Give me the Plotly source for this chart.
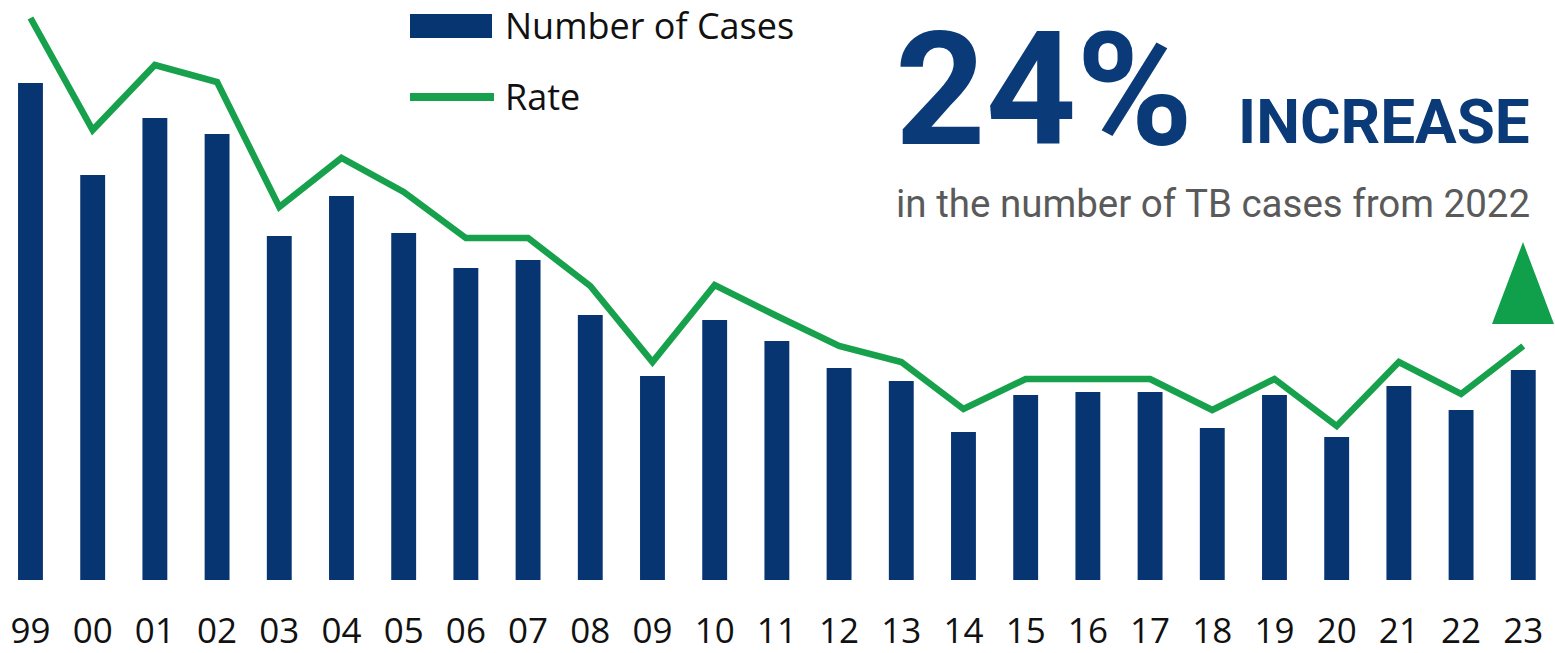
import plotly.graph_objects as go

# values (no axis scale shown, units = relative bar height)
years = ["99", "00", "01", "02", "03", "04", "05", "06", "07", "08", "09", "10", "11",
         "12", "13", "14", "15", "16", "17", "18", "19", "20", "21", "22", "23"]
cases = [497, 405, 462, 446, 344, 384, 347, 312, 320, 265, 204, 260, 239,
         212, 199, 148, 185, 188, 188, 152, 185, 143, 194, 170, 210]
rate = [562, 450, 515, 498, 373, 422, 388, 342, 342, 294, 218, 295, 264,
        234, 218, 171, 201, 201, 201, 170, 201, 154, 218, 186, 234]

navy = "#073571"
green = "#17a14c"
W, H = 1555, 653
plot_h = 580


def px(x):
    return x / W


def py(y):
    return (plot_h - y) / plot_h


fig = go.Figure()
fig.add_trace(go.Bar(x=years, y=cases, name="Number of Cases", marker_color=navy,
                     marker_line_width=0))
fig.add_trace(go.Scatter(x=years, y=rate, name="Rate", mode="lines",
                         line=dict(color=green, width=6.5), cliponaxis=False))

# hand-drawn legend, like the original graphic
shapes = [
    dict(type="rect", xref="paper", yref="paper", x0=px(410), x1=px(492), y0=py(38), y1=py(14),
         fillcolor=navy, line_width=0),
    dict(type="line", xref="paper", yref="paper", x0=px(410), x1=px(494), y0=py(97), y1=py(97),
         line=dict(color=green, width=8)),
    dict(type="path", xref="paper", yref="paper",
         path=f"M {px(1523)},{py(242)} L {px(1492)},{py(324)} L {px(1554)},{py(324)} Z",
         fillcolor="#10a04b", line_width=0),
]

annotations = [
    dict(text="Number of Cases", x=px(503), y=py(26), xanchor="left", yanchor="middle",
         font=dict(family="Open Sans", size=36, color="#111111")),
    dict(text="Rate", x=px(503), y=py(97), xanchor="left", yanchor="middle",
         font=dict(family="Open Sans", size=36, color="#111111")),
    dict(text="<b>24%</b>", x=px(893), y=py(90), xanchor="left", yanchor="middle",
         font=dict(family="Roboto", size=158, color="#0a3a78")),
    dict(text="<b>INCREASE</b>", x=px(1532), y=py(121), xanchor="right", yanchor="middle",
         font=dict(family="Roboto", size=62, color="#0a3a78")),
    dict(text="in the number of TB cases from 2022", x=px(1532), y=py(203), xanchor="right",
         yanchor="middle", font=dict(family="Roboto", size=38.5, color="#5a5a5a")),
]
for a in annotations:
    a.update(xref="paper", yref="paper", showarrow=False)

fig.update_layout(
    width=W, height=H,
    margin=dict(l=0, r=0, t=0, b=H - plot_h),
    plot_bgcolor="white", paper_bgcolor="white",
    showlegend=False, bargap=0.6,
    shapes=shapes, annotations=annotations,
)
fig.update_xaxes(type="category", range=[-0.49, 24.51], showgrid=False, zeroline=False,
                 showline=False, ticks="", ticklabelstandoff=27, automargin=False,
                 tickfont=dict(family="Open Sans", size=35, color="#111111"))
fig.update_yaxes(range=[0, plot_h], visible=False, automargin=False)

# page body has a default margin, drop it so the figure fills the window
fig.write_html("out.html", config={"displayModeBar": False},
               post_script="document.body.style.margin='0';document.body.style.overflow='hidden';")
